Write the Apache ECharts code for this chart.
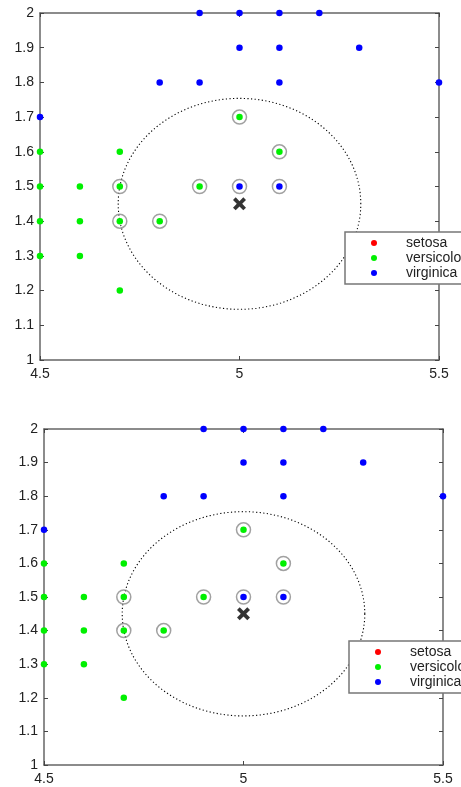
<!DOCTYPE html>
<html><head><meta charset="utf-8">
<script src="https://cdn.jsdelivr.net/npm/echarts@6/dist/echarts.min.js"></script>
<style>html,body{margin:0;padding:0;background:#fff}#c{width:461px;height:787px}</style>
</head><body><div id="c"></div>
<script>
const seriesNames = ['setosa', 'versicolor', 'virginica'];
const setosa = [];
const versicolor = [[4.5,1.6],[4.7,1.6],[5.1,1.6],[5.0,1.7],[4.5,1.5],[4.6,1.5],[4.7,1.5],[4.9,1.5],[4.5,1.4],[4.6,1.4],[4.7,1.4],[4.8,1.4],[4.5,1.3],[4.6,1.3],[4.7,1.2]];
const virginica = [[4.9,2.0],[5.0,2.0],[5.1,2.0],[5.2,2.0],[5.0,1.9],[5.1,1.9],[5.3,1.9],[4.8,1.8],[4.9,1.8],[5.1,1.8],[5.5,1.8],[4.5,1.7],[5.0,1.5],[5.1,1.5]];
const neighbors = [[5.0,1.7],[5.1,1.6],[4.7,1.5],[4.9,1.5],[5.0,1.5],[5.1,1.5],[4.7,1.4],[4.8,1.4]];
const query = [[5.0,1.45]];
const searchRadius = 0.304;
const xTicks = [4.5, 5, 5.5];
const yTicks = [1, 1.1, 1.2, 1.3, 1.4, 1.5, 1.6, 1.7, 1.8, 1.9, 2];
const colors = {setosa:'#ff0000', versicolor:'#00f000', virginica:'#0000ff'};

const axisColor = '#666';
const font = 'Liberation Sans, Arial, sans-serif';
const grids = [
  {left:40, top:13, width:399, height:347},
  {left:44, top:429, width:399, height:336}
];
const xAxes = [], yAxes = [], series = [], legends = [];
const legendPos = [{left:345, top:232}, {left:349, top:641}];

grids.forEach((g, gi) => {
  const base = {gridIndex:gi, type:'value', min:xTicks[0], max:xTicks[xTicks.length-1], interval:0.5,
    axisLine:{show:true, lineStyle:{color:axisColor, width:1.5}},
    axisTick:{show:true, inside:true, length:4, lineStyle:{color:'#444'}},
    splitLine:{show:false}};
  xAxes.push(Object.assign({}, base, {position:'bottom',
    axisLabel:{show:true, margin:7, color:'#222', fontSize:14, fontFamily:font}}));
  xAxes.push(Object.assign({}, base, {position:'top', axisLabel:{show:false}}));
  const ybase = {gridIndex:gi, type:'value', min:yTicks[0], max:yTicks[yTicks.length-1], interval:0.1,
    axisLine:{show:true, lineStyle:{color:axisColor, width:1.5}},
    axisTick:{show:true, inside:true, length:4, lineStyle:{color:'#444'}},
    splitLine:{show:false}};
  yAxes.push(Object.assign({}, ybase, {position:'left',
    axisLabel:{show:true, margin:6, color:'#222', fontSize:14, fontFamily:font,
      formatter: v => String(Math.round(v*10)/10)}}));
  yAxes.push(Object.assign({}, ybase, {position:'right', axisLabel:{show:false}}));
  const xi = gi*2, yi = gi*2;
  series.push({
    type:'custom', xAxisIndex:xi, yAxisIndex:yi, z:1, silent:true,
    data:[[query[0][0], query[0][1], searchRadius]],
    renderItem:(params, api) => {
      const cx = api.value(0), cy = api.value(1), r = api.value(2);
      const pts = [];
      for (let i = 0; i <= 180; i++) {
        const t = i/180*Math.PI*2;
        pts.push(api.coord([cx + r*Math.cos(t), cy + r*Math.sin(t)]));
      }
      return {type:'polyline', shape:{points:pts},
        style:{stroke:'#000', lineWidth:1.1, lineDash:[1.2,2.4], fill:null}};
    }
  });
  seriesNames.forEach(n => {
    const d = n === 'setosa' ? setosa : (n === 'versicolor' ? versicolor : virginica);
    series.push({name:n, type:'scatter', xAxisIndex:xi, yAxisIndex:yi, data:d, symbol:'circle',
      symbolSize:6.5, itemStyle:{color:colors[n], opacity:1}, z:3, silent:true});
  });
  series.push({type:'scatter', xAxisIndex:xi, yAxisIndex:yi, data:neighbors, symbol:'circle',
    symbolSize:14, itemStyle:{color:'rgba(0,0,0,0)', borderColor:'#8a8a8a', borderWidth:1.5}, z:4, silent:true});
  series.push({type:'scatter', xAxisIndex:xi, yAxisIndex:yi, data:query,
    symbol:'path://M0,2.5 L2.5,0 L6,3.5 L9.5,0 L12,2.5 L8.5,6 L12,9.5 L9.5,12 L6,8.5 L2.5,12 L0,9.5 L3.5,6 Z',
    symbolSize:13, itemStyle:{color:'#000'}, z:5, silent:true});
  legends.push({
    data:seriesNames, orient:'vertical', left:legendPos[gi].left, top:legendPos[gi].top,
    width:200, padding:[4, 40, 4, 26], itemGap:1, itemWidth:6, itemHeight:6, icon:'circle',
    backgroundColor:'#fff', borderColor:'#777', borderWidth:1.5, selectedMode:false,
    textStyle:{fontSize:14, color:'#222', fontFamily:font, padding:[0,0,0,24]}
  });
});

const chart = echarts.init(document.getElementById('c'), null, {renderer:'canvas'});
chart.setOption({
  animation:false,
  backgroundColor:'#fff',
  grid:grids,
  xAxis:xAxes,
  yAxis:yAxes,
  legend:legends,
  series:series
});
</script></body></html>
